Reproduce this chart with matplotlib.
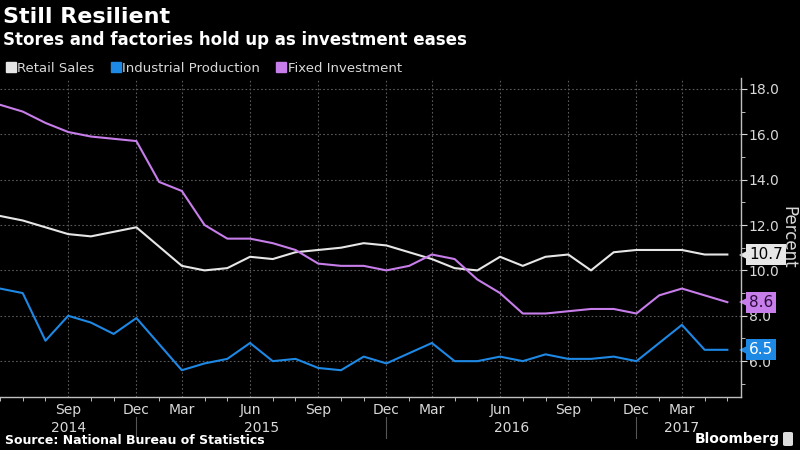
import numpy as np
import matplotlib
matplotlib.use("Agg")
import matplotlib.pyplot as plt
from matplotlib.lines import Line2D
from matplotlib.patches import FancyBboxPatch
import matplotlib.transforms as mtransforms

# Data (NBS, y/y %, Jan-Feb reported jointly -> one point per year at "Feb")
periods = ['Jun 2014', 'Jul 2014', 'Aug 2014', 'Sep 2014', 'Oct 2014', 'Nov 2014', 'Dec 2014',
           'Feb 2015', 'Mar 2015', 'Apr 2015', 'May 2015', 'Jun 2015', 'Jul 2015', 'Aug 2015',
           'Sep 2015', 'Oct 2015', 'Nov 2015', 'Dec 2015',
           'Feb 2016', 'Mar 2016', 'Apr 2016', 'May 2016', 'Jun 2016', 'Jul 2016', 'Aug 2016',
           'Sep 2016', 'Oct 2016', 'Nov 2016', 'Dec 2016',
           'Feb 2017', 'Mar 2017', 'Apr 2017', 'May 2017']

retail_sales = [12.4, 12.2, 11.9, 11.6, 11.5, 11.7, 11.9,
                None, 10.2, 10.0, 10.1, 10.6, 10.5, 10.8, 10.9, 11.0, 11.2, 11.1,
                None, 10.5, 10.1, 10.0, 10.6, 10.2, 10.6, 10.7, 10.0, 10.8, 10.9,
                None, 10.9, 10.7, 10.7]
industrial_production = [9.2, 9.0, 6.9, 8.0, 7.7, 7.2, 7.9,
                         None, 5.6, 5.9, 6.1, 6.8, 6.0, 6.1, 5.7, 5.6, 6.2, 5.9,
                         None, 6.8, 6.0, 6.0, 6.2, 6.0, 6.3, 6.1, 6.1, 6.2, 6.0,
                         None, 7.6, 6.5, 6.5]
fixed_investment = [17.3, 17.0, 16.5, 16.1, 15.9, 15.8, 15.7,
                    13.9, 13.5, 12.0, 11.4, 11.4, 11.2, 10.9, 10.3, 10.2, 10.2, 10.0,
                    10.2, 10.7, 10.5, 9.6, 9.0, 8.1, 8.1, 8.2, 8.3, 8.3, 8.1,
                    8.9, 9.2, 8.9, 8.6]

series_names = ['Retail Sales', 'Industrial Production', 'Fixed Investment']
series_colors = ['#e6e6e6', '#1e88e5', '#c77dea']
tag_text_colors = ['#000000', '#ffffff', '#2a0a3a']

month_labels = ['Sep', 'Dec', 'Mar', 'Jun']
year_labels = ['2014', '2015', '2016', '2017']

BG = '#000000'
GRID = '#5a5a5a'
TXT = '#d9d9d9'

fig = plt.figure(figsize=(8, 4.5), dpi=100, facecolor=BG)
ax = fig.add_axes([0, 53 / 450, 741 / 800, 319 / 450])
ax.set_facecolor(BG)

x = np.arange(len(periods))
for vals, name, col in zip([retail_sales, industrial_production, fixed_investment],
                           series_names, series_colors):
    v = np.array([np.nan if a is None else a for a in vals], dtype=float)
    ok = ~np.isnan(v)
    ax.plot(x[ok], v[ok], color=col, lw=1.5, label=name)

ax.set_xlim(0, 32.6)
ax.set_ylim(4.42, 18.48)

# y axis on the right
ax.yaxis.tick_right()
ax.yaxis.set_label_position('right')
ax.set_yticks(np.arange(6, 19, 2))
ax.set_yticks(np.arange(5, 19, 2), minor=True)
ax.set_yticklabels([f'{t:.1f}' for t in np.arange(6, 19, 2)], color=TXT, fontsize=10)
ax.tick_params(axis='y', which='major', length=4, color=TXT, pad=1.5)
ax.tick_params(axis='y', which='minor', length=3, color=TXT)
ax.set_ylabel('Percent', color=TXT, fontsize=12, rotation=270, labelpad=13)

# x axis: a tick at every observation, labels every quarter (first point unlabelled)
month_pos = [i for i, p in enumerate(periods) if p.split()[0] in month_labels and i > 0]
ax.set_xticks(month_pos)
ax.set_xticklabels([periods[i].split()[0] for i in month_pos], color=TXT, fontsize=10)
ax.set_xticks(x, minor=True)
ax.tick_params(axis='x', which='major', length=0, pad=4)
ax.tick_params(axis='x', which='minor', length=3, color=TXT)

for s in ['left', 'top']:
    ax.spines[s].set_visible(False)
for s in ['right', 'bottom']:
    ax.spines[s].set_color('#bfbfbf')
    ax.spines[s].set_linewidth(1)

ax.grid(True, which='major', color=GRID, linestyle=(0, (1.5, 2)), linewidth=0.8)

# year labels and separators
trans = mtransforms.blended_transform_factory(ax.transData, fig.transFigure)
dec_pos = [i for i, p in enumerate(periods) if p.startswith('Dec')]
bounds = [0] + dec_pos + [32.6]
for yl, a, b in zip(year_labels, bounds[:-1], bounds[1:]):
    xc = (a + b) / 2 if yl != '2017' else 30
    fig.text(xc, 1 - 428 / 450, yl, transform=trans, ha='center', va='center', color=TXT, fontsize=10)
for d in dec_pos:
    fig.add_artist(Line2D([d, d], [1 - 417 / 450, 1 - 438 / 450], transform=trans,
                          color='#555555', lw=0.8))

# end-value tags
vals_last = [retail_sales[-1], industrial_production[-1], fixed_investment[-1]]
tr2 = mtransforms.blended_transform_factory(ax.transAxes, ax.transData)
for v, col, tc in zip(vals_last, series_colors, tag_text_colors):
    ax.plot([1.006], [v], marker='<', markersize=8, color=col, transform=tr2,
            clip_on=False, markeredgewidth=0)
    ax.text(1.011, v, f'{v:.1f}', transform=tr2, ha='left', va='center', fontsize=11,
            color=tc, clip_on=False,
            bbox=dict(boxstyle='square,pad=0.2', fc=col, ec='none'))

# titles
fig.text(0.004, 1 - 17 / 450, 'Still Resilient', color='white', fontsize=16, fontweight='bold',
         va='center', ha='left')
fig.text(0.004, 1 - 40 / 450, 'Stores and factories hold up as investment eases', color='white',
         fontsize=12, fontweight='bold', va='center', ha='left')

handles = [Line2D([], [], marker='s', linestyle='', color=c, markersize=7.5) for c in series_colors]
fig.legend(handles, series_names, loc='center left', bbox_to_anchor=(0.0, 1 - 68 / 450),
           ncol=3, frameon=False, fontsize=9.5, labelcolor=TXT, handletextpad=0.1,
           columnspacing=1.2, handlelength=0.8, borderaxespad=0)

fig.text(0.006, 1 - 440 / 450, 'Source: National Bureau of Statistics', color='white',
         fontsize=9, fontweight='bold', va='center', ha='left')
fig.text(975 / 1000, 1 - 439 / 450, 'Bloomberg', color='white', fontsize=10, fontweight='bold',
         va='center', ha='right')
icon = FancyBboxPatch((783 / 800, 1 - 446 / 450), 10 / 800, 14 / 450,
                      boxstyle='round,pad=0,rounding_size=0.003', transform=fig.transFigure,
                      fc='#dddddd', ec='none')
fig.add_artist(icon)

fig.savefig('out.png', dpi=100, facecolor=BG)
